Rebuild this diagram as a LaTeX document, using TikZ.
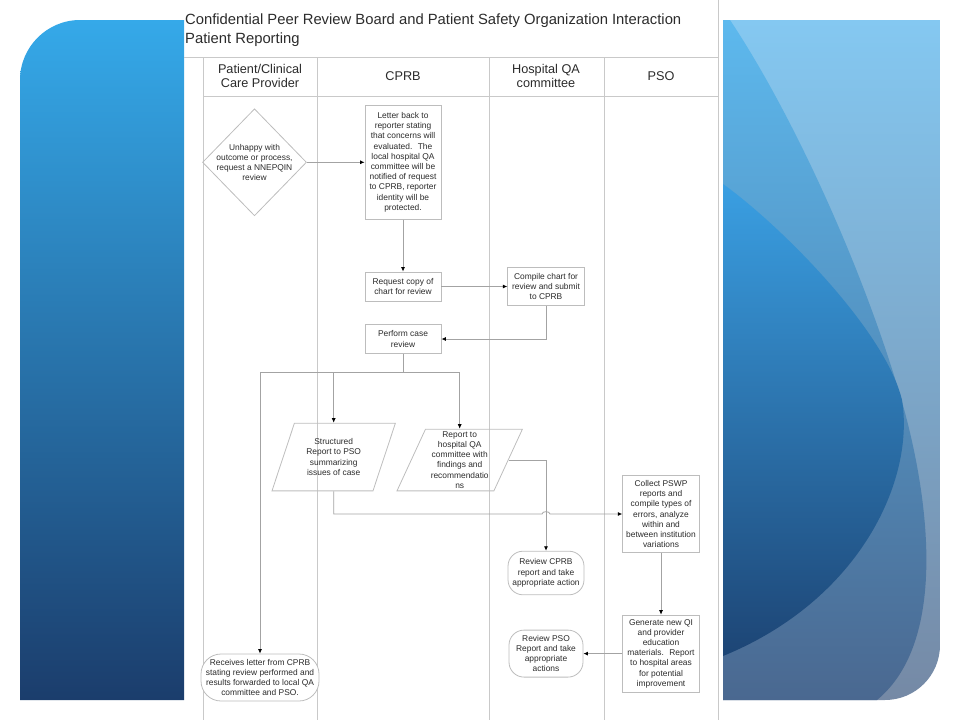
\documentclass[tikz,border=0pt]{standalone}
\usepackage{fontspec}
\setmainfont{Liberation Sans}
\usetikzlibrary{shapes.geometric,arrows.meta}
\definecolor{skyblue}{HTML}{35A9E9}
\definecolor{navyblue}{HTML}{1B3D6C}
\definecolor{palesky}{HTML}{84C8F1}
\definecolor{slateblue}{HTML}{7589A5}
\definecolor{midsky}{HTML}{5DB9EE}
\definecolor{midslate}{HTML}{4A6890}
\definecolor{deepsky}{HTML}{3A9FE2}
\definecolor{deepnavy}{HTML}{1D4575}
\definecolor{lanegray}{HTML}{C9C9C9}
\definecolor{flowgray}{HTML}{A3A3A3}
\definecolor{boxgray}{HTML}{BDBDBD}
\definecolor{inkgray}{HTML}{2B2B2B}

\begin{document}
\begin{tikzpicture}[x=1pt,y=-1pt,
  lane/.style={draw=lanegray,line width=1pt},
  link/.style={draw=flowgray,line width=0.8pt},
  flow/.style={link,-{Latex[length=4.5pt,width=4pt,color=black]}},
  boxtext/.style={font=\fontsize{8.4}{10.2}\selectfont,text=inkgray,align=center,inner sep=0pt},
  procbox/.style={boxtext,draw=boxgray,line width=0.8pt,fill=white},
  termbox/.style={procbox,rounded corners=15pt},
  databox/.style={boxtext,draw=boxgray,line width=0.8pt,trapezium,trapezium left angle=67,trapezium right angle=113,trapezium stretches},
  decision/.style={draw=boxgray,line width=0.8pt,diamond,inner sep=0pt},
  lanehead/.style={font=\fontsize{12.7}{14.6}\selectfont,align=center,text=inkgray}]
  \useasboundingbox (0,0) rectangle (960,720);
  \shade[top color=skyblue,bottom color=navyblue] (184,20) -- (80,20) .. controls (47,20) and (20,47) .. (20,80) -- (20,700) -- (184,700) -- cycle;
  \begin{scope}
    \clip (723,20) -- (940,20) -- (940,645) .. controls (940,675.4) and (915.4,700) .. (885,700) -- (723,700) -- cycle;
    \shade[top color=palesky,bottom color=slateblue] (723,20) rectangle (940,700);
    \shade[top color=midsky,bottom color=midslate] (723,20) -- (730,20) .. controls (790,110) and (860,260) .. (900,395) .. controls (928,490) and (950,640) .. (877,700) -- (723,700) -- cycle;
    \shade[top color=deepsky,bottom color=deepnavy] (723,184) .. controls (780,225) and (885,330) .. (902,400) .. controls (915,480) and (860,600) .. (723,656) -- cycle;
  \end{scope}

  \node[anchor=north west,inner sep=0pt,align=left,font=\fontsize{14.8}{18.4}\selectfont,text=inkgray] (title) at (185,14) {Confidential Peer Review Board and Patient Safety Organization Interaction\\Patient Reporting};
  \draw[lane] (184,57) -- (718,57);
  \draw[lane] (203,96) -- (718,96);
  \draw[lane] (718,0) -- (718,57);
  \foreach \x in {203,317,489,604,718}
    \draw[lane] (\x,57) -- (\x,720);
  \node[lanehead] (patienthead) at (260,76) {Patient/Clinical\\Care Provider};
  \node[lanehead] (cprbhead) at (403,76) {CPRB};
  \node[lanehead] (qahead) at (546,76) {Hospital QA\\committee};
  \node[lanehead] (psohead) at (661,76) {PSO};

  \node[decision,minimum width=104pt,minimum height=107pt,label={[boxtext]center:{Unhappy with\\outcome or process,\\request a NNEPQIN\\review}}] (unhappy) at (254.5,162.3) {};
  \node[procbox,minimum width=76pt,minimum height=114pt] (letter) at (403,162.3) {Letter back to\\reporter stating\\that concerns will\\evaluated.~ The\\local hospital QA\\committee will be\\notified of request\\to CPRB, reporter\\identity will be\\protected.};
  \node[procbox,minimum width=76pt,minimum height=29pt] (request) at (403,286.5) {Request copy of\\chart for review};
  \node[procbox,minimum width=76pt,minimum height=29pt] (perform) at (403,339) {Perform case\\review};
  \node[procbox,minimum width=76.6pt,minimum height=38pt] (compile) at (546,286.5) {Compile chart for\\review and submit\\to CPRB};
  \node[databox,minimum width=124pt,minimum height=67.7pt] (structured) at (333.7,457) {Structured\\Report to PSO\\summarizing\\issues of case};
  \node[databox,minimum width=125.5pt,minimum height=61.7pt] (report) at (459.7,460) {Report to\\hospital QA\\committee with\\findings and\\recommendatio\\ns};
  \node[procbox,minimum width=76.6pt,minimum height=76.6pt] (collect) at (661,514) {Collect PSWP\\reports and\\compile types of\\errors, analyze\\within and\\between institution\\variations};
  \node[termbox,minimum width=76pt,minimum height=43.6pt] (reviewcprb) at (546,573) {Review CPRB\\report and take\\appropriate action};
  \node[procbox,minimum width=76.4pt,minimum height=77pt] (generate) at (661,653.6) {Generate new QI\\and provider\\education\\materials.~ Report\\to hospital areas\\for potential\\improvement};
  \node[termbox,minimum width=74pt,minimum height=47pt] (reviewpso) at (546,653.6) {Review PSO\\Report and take\\appropriate\\actions};
  \node[termbox,minimum width=118pt,minimum height=47pt,rounded corners=20pt] (receives) at (260,677.5) {Receives letter from CPRB\\stating review performed and\\results forwarded to local QA\\committee and PSO.};

  \coordinate (split) at (403,372);
  \coordinate (hop) at (546,514);
  \draw[flow] (unhappy) -- (letter);
  \draw[flow] (letter) -- (request);
  \draw[flow] (request) -- (compile);
  \draw[flow] (compile) |- (perform);
  \draw[link] (perform) -- (split);
  \draw[flow] (split) -| (receives);
  \draw[flow] (split) -| (structured);
  \draw[flow] (split) -| (report);
  \draw[flow] (report) -| (reviewcprb);
  \draw[flow] (structured) |- ([xshift=-4pt]hop) to[bend left=90] ([xshift=4pt]hop) -- (collect);
  \draw[flow] (collect) -- (generate);
  \draw[flow] (generate) -- (reviewpso);
\end{tikzpicture}
\end{document}
